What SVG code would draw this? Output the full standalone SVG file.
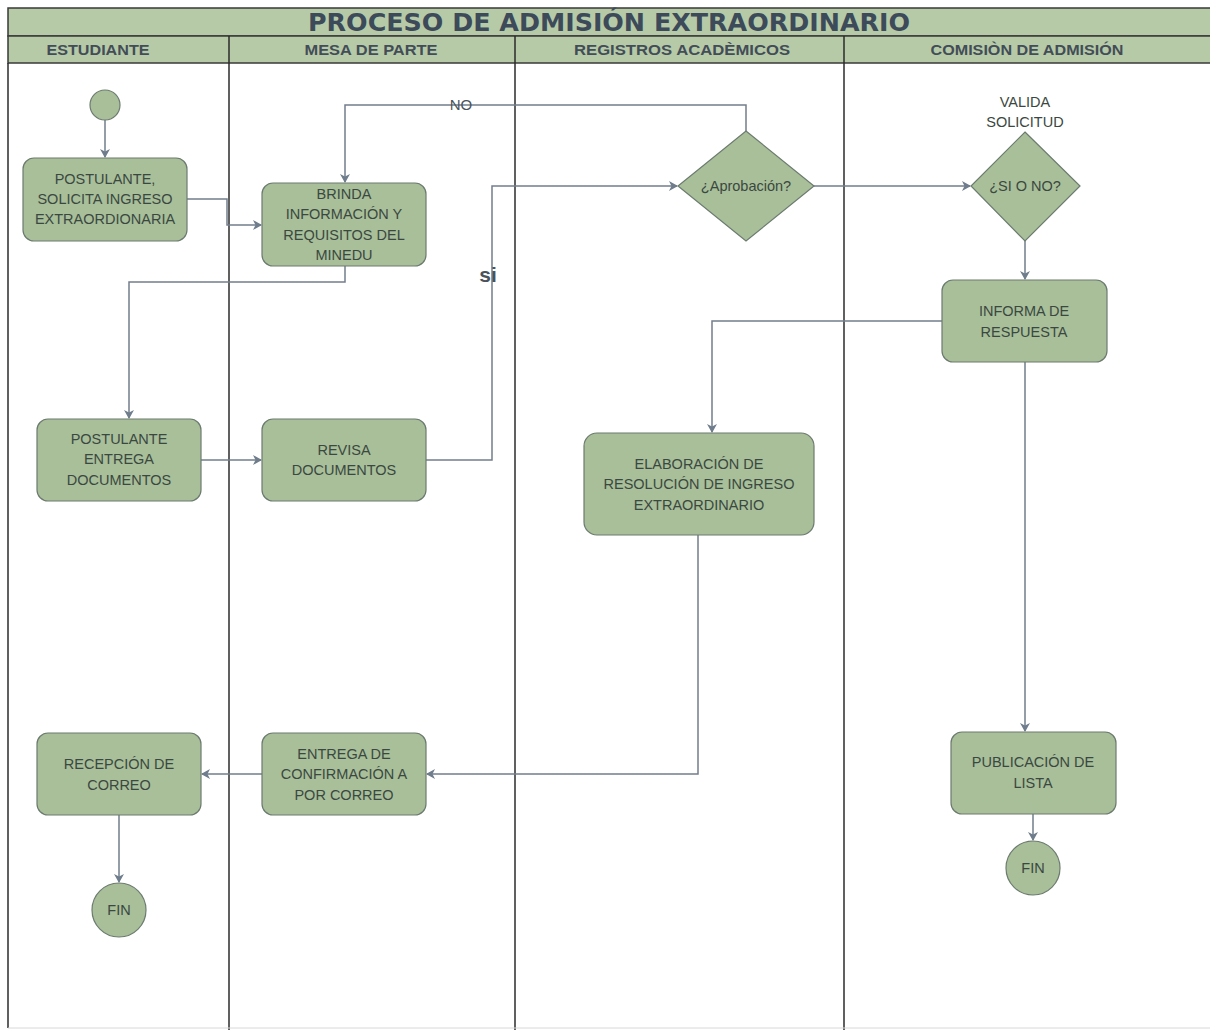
<svg xmlns="http://www.w3.org/2000/svg" width="1210" height="1030" viewBox="0 0 1210 1030">
<defs>
<marker id="arr" markerWidth="10" markerHeight="10" refX="8" refY="5" orient="auto" markerUnits="userSpaceOnUse">
<path d="M0,0 L9,5 L0,10 L2.5,5 Z" fill="#6f7c8b"/>
</marker>
<style>
.lane{fill:none;stroke:#2b2b2b;stroke-width:1.5}
.hdr{fill:#b6caa7;stroke:#3a3a3a;stroke-width:1.5}
.title{font-family:"DejaVu Sans",sans-serif;font-weight:bold;font-size:25px;fill:#3c4a5a}
.htxt{font-family:"Liberation Sans",Arial,sans-serif;font-weight:bold;font-size:14.5px;fill:#434d57}
.node{fill:#a8bf99;stroke:#6c7b6f;stroke-width:1.2}
.t{font-family:"Liberation Sans",Arial,sans-serif;font-size:14.5px;fill:#3b4841;text-anchor:middle}
.lbl{font-family:"Liberation Sans",Arial,sans-serif;font-size:15px;fill:#4a535c;text-anchor:middle}
.conn path{fill:none;stroke:#717e8c;stroke-width:1.5}
</style>
</defs>
<rect width="1210" height="1030" fill="#ffffff"/>
<g id="frame">
<rect class="hdr" x="8" y="8" width="1210" height="28"/>
<rect class="hdr" x="8" y="36" width="1210" height="27"/>
<line class="lane" x1="8" y1="63" x2="8" y2="1028"/>
<line class="lane" x1="229" y1="36" x2="229" y2="1030"/>
<line class="lane" x1="515" y1="36" x2="515" y2="1030"/>
<line class="lane" x1="844" y1="36" x2="844" y2="1030"/>
<line x1="8" y1="1028" x2="1210" y2="1028" stroke="#d8d8d8" stroke-width="1"/>
<text class="title" x="609" y="31" text-anchor="middle" textLength="602" lengthAdjust="spacingAndGlyphs">PROCESO DE ADMISIÓN EXTRAORDINARIO</text>
<text class="htxt" x="98" y="55" text-anchor="middle" textLength="103" lengthAdjust="spacingAndGlyphs">ESTUDIANTE</text>
<text class="htxt" x="371" y="55" text-anchor="middle" textLength="133" lengthAdjust="spacingAndGlyphs">MESA DE PARTE</text>
<text class="htxt" x="682" y="55" text-anchor="middle" textLength="216" lengthAdjust="spacingAndGlyphs">REGISTROS ACADÈMICOS</text>
<text class="htxt" x="1027" y="55" text-anchor="middle" textLength="193" lengthAdjust="spacingAndGlyphs">COMISIÒN DE ADMISIÓN</text>
</g>
<g class="conn" id="connectors">
<path d="M105,120 V157" marker-end="url(#arr)"/>
<path d="M187,199 H227 V225 H261" marker-end="url(#arr)"/>
<path d="M746,131 V105 H345 V182" marker-end="url(#arr)"/>
<path d="M345,266 V282 H129 V418" marker-end="url(#arr)"/>
<path d="M201,460 H261" marker-end="url(#arr)"/>
<path d="M426,460 H492 V186 H677" marker-end="url(#arr)"/>
<path d="M814,186 H970" marker-end="url(#arr)"/>
<path d="M1025,241 V279" marker-end="url(#arr)"/>
<path d="M942,321 H712 V432" marker-end="url(#arr)"/>
<path d="M1025,362 V731" marker-end="url(#arr)"/>
<path d="M698,535 V774 H427" marker-end="url(#arr)"/>
<path d="M262,774 H202" marker-end="url(#arr)"/>
<path d="M119,815 V882" marker-end="url(#arr)"/>
<path d="M1033,814 V840" marker-end="url(#arr)"/>
<text class="lbl" x="461" y="110">NO</text>
<text x="488" y="282" font-family="Liberation Sans,Arial,sans-serif" font-weight="bold" font-size="21" fill="#4a535c" text-anchor="middle">si</text>
</g>
<g id="start"><circle class="node" cx="105" cy="105" r="15"/></g>
<g id="n_solicita">
<rect class="node" x="23" y="158" width="164" height="83" rx="11"/>
<text class="t" x="105" y="184">POSTULANTE,</text>
<text class="t" x="105" y="204">SOLICITA  INGRESO</text>
<text class="t" x="105" y="224">EXTRAORDIONARIA</text>
</g>
<g id="n_brinda">
<rect class="node" x="262" y="183" width="164" height="83" rx="11"/>
<text class="t" x="344" y="199">BRINDA</text>
<text class="t" x="344" y="219">INFORMACIÓN Y</text>
<text class="t" x="344" y="240">REQUISITOS DEL</text>
<text class="t" x="344" y="260">MINEDU</text>
</g>
<g id="n_aprobacion">
<polygon class="node" points="746,131 814,186 746,241 678,186"/>
<text class="t" x="746" y="191">¿Aprobación?</text>
</g>
<g id="n_valida">
<text class="t" x="1025" y="107">VALIDA</text>
<text class="t" x="1025" y="127">SOLICITUD</text>
<polygon class="node" points="1025,132 1080,186 1025,241 971,186"/>
<text class="t" x="1025" y="191">¿SI O NO?</text>
</g>
<g id="n_informa">
<rect class="node" x="942" y="280" width="165" height="82" rx="11"/>
<text class="t" x="1024" y="316">INFORMA DE</text>
<text class="t" x="1024" y="337">RESPUESTA</text>
</g>
<g id="n_entrega_docs">
<rect class="node" x="37" y="419" width="164" height="82" rx="11"/>
<text class="t" x="119" y="444">POSTULANTE</text>
<text class="t" x="119" y="464">ENTREGA</text>
<text class="t" x="119" y="485">DOCUMENTOS</text>
</g>
<g id="n_revisa">
<rect class="node" x="262" y="419" width="164" height="82" rx="11"/>
<text class="t" x="344" y="455">REVISA</text>
<text class="t" x="344" y="475">DOCUMENTOS</text>
</g>
<g id="n_elaboracion">
<rect class="node" x="584" y="433" width="230" height="102" rx="13"/>
<text class="t" x="699" y="469">ELABORACIÓN DE</text>
<text class="t" x="699" y="489">RESOLUCIÓN DE INGRESO</text>
<text class="t" x="699" y="510">EXTRAORDINARIO</text>
</g>
<g id="n_recepcion">
<rect class="node" x="37" y="733" width="164" height="82" rx="11"/>
<text class="t" x="119" y="769">RECEPCIÓN DE</text>
<text class="t" x="119" y="790">CORREO</text>
</g>
<g id="n_confirmacion">
<rect class="node" x="262" y="733" width="164" height="82" rx="11"/>
<text class="t" x="344" y="759">ENTREGA DE</text>
<text class="t" x="344" y="779">CONFIRMACIÓN A</text>
<text class="t" x="344" y="800">POR CORREO</text>
</g>
<g id="n_fin1">
<circle class="node" cx="119" cy="910" r="27"/>
<text class="t" x="119" y="915">FIN</text>
</g>
<g id="n_publicacion">
<rect class="node" x="951" y="732" width="165" height="82" rx="11"/>
<text class="t" x="1033" y="767">PUBLICACIÓN DE</text>
<text class="t" x="1033" y="788">LISTA</text>
</g>
<g id="n_fin2">
<circle class="node" cx="1033" cy="868" r="27"/>
<text class="t" x="1033" y="873">FIN</text>
</g>
</svg>
